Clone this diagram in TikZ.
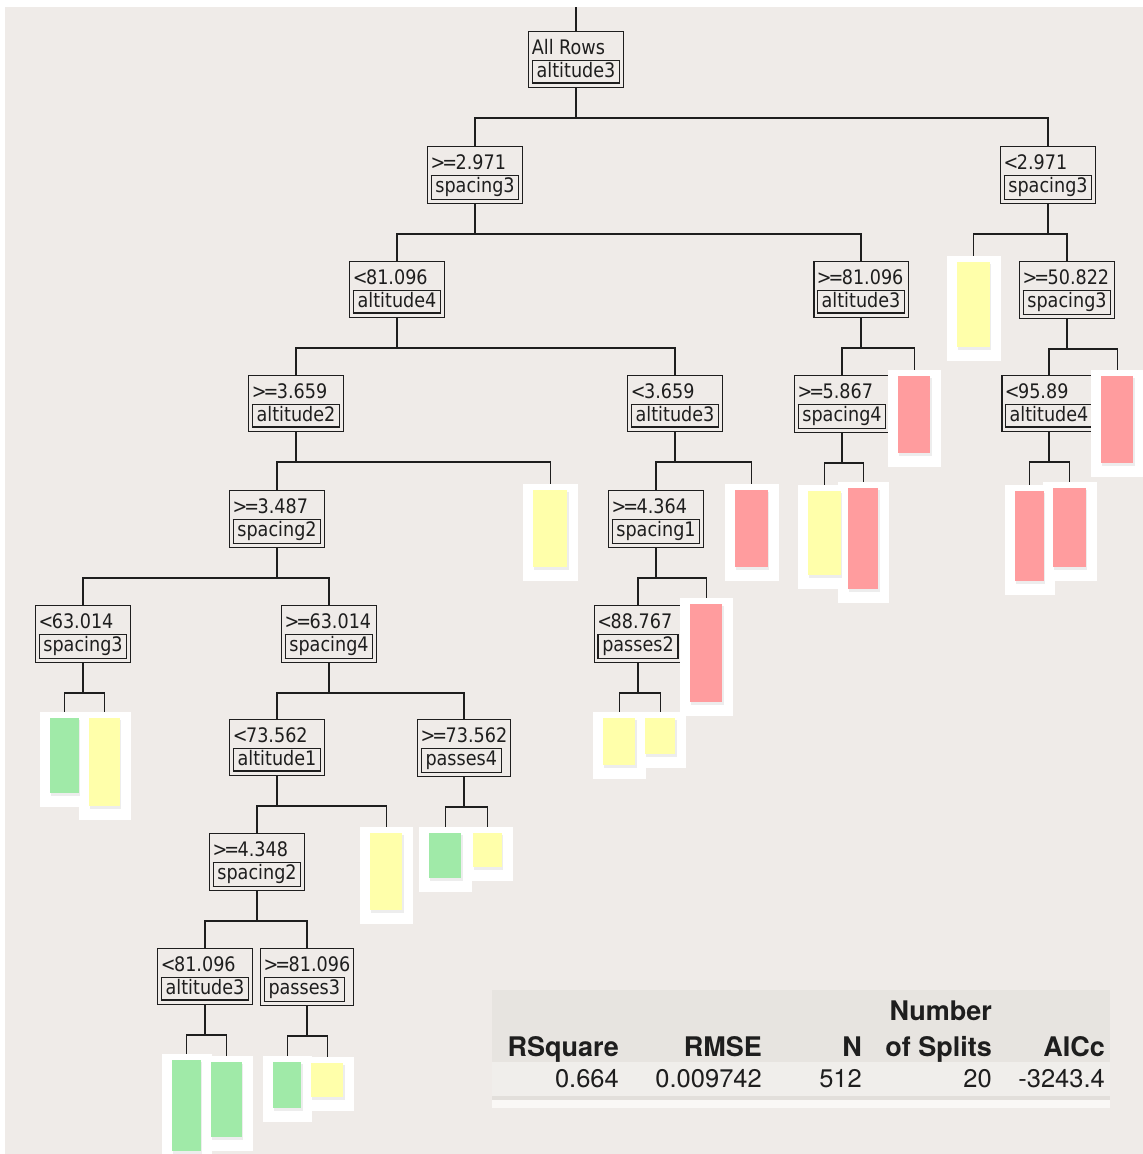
\documentclass[tikz,border=0pt]{standalone}
\usepackage{fontspec}
\setmainfont{TeX Gyre Heros}
\newfontfamily\boxfont[FakeStretch=0.88]{DejaVu Sans}

\definecolor{canvas}{HTML}{EFEBE8}
\definecolor{ink}{HTML}{1E1E1E}
\definecolor{leafgreen}{HTML}{A0EAA8}
\definecolor{leafyellow}{HTML}{FFFFAA}
\definecolor{leafred}{HTML}{FF9C9E}
\definecolor{headband}{HTML}{E7E4E0}
\definecolor{rowband}{HTML}{F0EEEB}
\definecolor{ruleline}{HTML}{E2DFDB}
\definecolor{footstrip}{HTML}{FAF8F6}

\pgfdeclarelayer{background}
\pgfdeclarelayer{foreground}
\pgfsetlayers{background,main,foreground}

\setlength{\fboxrule}{1.3pt}
\setlength{\fboxsep}{1.5pt}

% tight comparison signs
\newcommand\GE{>\kern-3pt=\kern-1.5pt}
\newcommand\LT{<\kern-1.5pt}

% split label: condition on top, variable name in an inner frame
\newcommand\splitlabel[2]{\vbox{\offinterlineskip
  \hbox{\rule[-5pt]{0pt}{24.5pt}#1}
  \hbox{\fbox{\kern2pt\rule[-3pt]{0pt}{18.4pt}#2\kern2pt}}}}

% leaf: name, bar centre x, bar top, bar bottom, colour, bar width
\newcommand\leaf[6]{%
  \node[leafbg, minimum width={#6pt+21pt}, minimum height={#4pt-#3pt+20pt},
        anchor=north] (#1) at ({#2+0.5},{#3-6}) {};
  \begin{pgfonlayer}{foreground}
    \fill[black, opacity=.07] ({#2-#6/2+1},{#3+2}) rectangle ({#2+#6/2+1.5},{#4+3});
    \fill[#5] ({#2-#6/2},#3) rectangle ({#2+#6/2},#4);
  \end{pgfonlayer}}

\tikzset{
  splitnode/.style={draw=ink, line width=1.3pt, inner xsep=3pt, inner ysep=3.5pt,
    anchor=north, font=\boxfont\fontsize{20}{24}\selectfont, text=ink},
  leafbg/.style={fill=white, draw=none, inner sep=0pt},
  edge/.style={draw=ink, line width=1.9pt},
  headtxt/.style={anchor=base east, inner sep=0pt, font=\fontsize{27}{30}\selectfont\bfseries, text=ink},
  celltxt/.style={anchor=base east, inner sep=0pt, font=\fontsize{25.5}{30}\selectfont, text=ink},
}

\begin{document}
\begin{tikzpicture}[x=1pt, y=-1pt]
\useasboundingbox (0,0) rectangle (1143,1154);
\begin{pgfonlayer}{background}
  \fill[white] (0,0) rectangle (1143,1154);
  \fill[canvas] (5,7) rectangle (1143,1154);
\end{pgfonlayer}

% split nodes, by level
\node[splitnode] (n1)  at (576,31)  {\splitlabel{All Rows}{altitude3}};
\node[splitnode] (n2)  at (475,146) {\splitlabel{\GE2.971}{spacing3}};
\node[splitnode] (n3)  at (1048,146){\splitlabel{\LT2.971}{spacing3}};
\node[splitnode] (n4)  at (397,261) {\splitlabel{\LT81.096}{altitude4}};
\node[splitnode] (n5)  at (861,261) {\splitlabel{\GE81.096}{altitude3}};
\node[splitnode] (n6)  at (1067,261){\splitlabel{\GE50.822}{spacing3}};
\node[splitnode] (n7)  at (296,375) {\splitlabel{\GE3.659}{altitude2}};
\node[splitnode] (n8)  at (675,375) {\splitlabel{\LT3.659}{altitude3}};
\node[splitnode] (n9)  at (842,375) {\splitlabel{\GE5.867}{spacing4}};
\node[splitnode] (n10) at (1049,375){\splitlabel{\LT95.89}{altitude4}};
\node[splitnode] (n11) at (277,490) {\splitlabel{\GE3.487}{spacing2}};
\node[splitnode] (n12) at (656,490) {\splitlabel{\GE4.364}{spacing1}};
\node[splitnode] (n13) at (83,605)  {\splitlabel{\LT63.014}{spacing3}};
\node[splitnode] (n14) at (329,605) {\splitlabel{\GE63.014}{spacing4}};
\node[splitnode] (n15) at (638,605) {\splitlabel{\LT88.767}{passes2}};
\node[splitnode] (n16) at (277,719) {\splitlabel{\LT73.562}{altitude1}};
\node[splitnode] (n17) at (464,719) {\splitlabel{\GE73.562}{passes4}};
\node[splitnode] (n18) at (257,833) {\splitlabel{\GE4.348}{spacing2}};
\node[splitnode] (n19) at (205,948) {\splitlabel{\LT81.096}{altitude3}};
\node[splitnode] (n20) at (307,948) {\splitlabel{\GE81.096}{passes3}};

% leaves
\leaf{l3}{973}{262}{347}{leafyellow}{33}
\leaf{l5}{914}{376}{453}{leafred}{32}
\leaf{l6}{1117}{376}{463}{leafred}{32}
\leaf{l7}{550}{490}{567}{leafyellow}{34}
\leaf{l8}{751}{490}{567}{leafred}{33}
\leaf{l9b}{863}{488}{589}{leafred}{30}
\leaf{l9a}{824}{491}{575}{leafyellow}{33}
\leaf{l10b}{1069}{488}{567}{leafred}{33}
\leaf{l10a}{1029}{491}{581}{leafred}{29}
\leaf{l12}{706}{604}{702}{leafred}{32}
\leaf{l13b}{104}{718}{806}{leafyellow}{31}
\leaf{l13a}{64}{718}{793}{leafgreen}{29}
\leaf{l15b}{660}{718}{754}{leafyellow}{30}
\leaf{l15a}{619}{718}{765}{leafyellow}{32}
\leaf{l16}{386}{833}{910}{leafyellow}{32}
\leaf{l17b}{487}{833}{867}{leafyellow}{29}
\leaf{l17a}{445}{833}{878}{leafgreen}{32}
\leaf{l19b}{226}{1062}{1137}{leafgreen}{31}
\leaf{l19a}{186}{1060}{1151}{leafgreen}{29}
\leaf{l20b}{327}{1063}{1097}{leafyellow}{32}
\leaf{l20a}{287}{1062}{1108}{leafgreen}{28}

% tree connectors, kept under the boxes and leaves
\coordinate (top) at (576,7);
\begin{pgfonlayer}{background}
  \draw[edge] (top) -- (n1.north);
  \foreach \p/\c in {n1/n2, n1/n3, n2/n4, n2/n5, n3/l3, n3/n6,
      n4/n7, n4/n8, n5/n9, n5/l5, n6/n10, n6/l6,
      n7/n11, n7/l7, n8/n12, n8/l8, n9/l9a, n9/l9b, n10/l10a, n10/l10b,
      n11/n13, n11/n14, n12/n15, n12/l12, n13/l13a, n13/l13b,
      n14/n16, n14/n17, n15/l15a, n15/l15b, n16/n18, n16/l16,
      n17/l17a, n17/l17b, n18/n19, n18/n20,
      n19/l19a, n19/l19b, n20/l20a, n20/l20b}
    \draw[edge] (\p.south) -- ++(0,30) -| (\c.north);
\end{pgfonlayer}

% summary table
\fill[headband] (492,990) rectangle (1110,1062);
\fill[rowband] (492,1062) rectangle (1110,1096);
\fill[ruleline] (492,1096) rectangle (1110,1100);
\fill[footstrip] (492,1100) rectangle (1110,1108);

\node[headtxt] (hrsq) at (619,1056) {RSquare};
\node[headtxt] (hrmse) at (762,1056) {RMSE};
\node[headtxt] (hn) at (862,1056) {N};
\node[headtxt] (hnum) at (992,1020) {Number};
\node[headtxt] (hspl) at (992,1056) {of Splits};
\node[headtxt] (haicc) at (1105,1056) {AICc};

\node[celltxt] (vrsq) at (619,1087) {0.664};
\node[celltxt] (vrmse) at (762,1087) {0.009742};
\node[celltxt] (vn) at (862,1087) {512};
\node[celltxt] (vspl) at (992,1087) {20};
\node[celltxt] (vaicc) at (1105,1087) {-3243.4};
\end{tikzpicture}
\end{document}
